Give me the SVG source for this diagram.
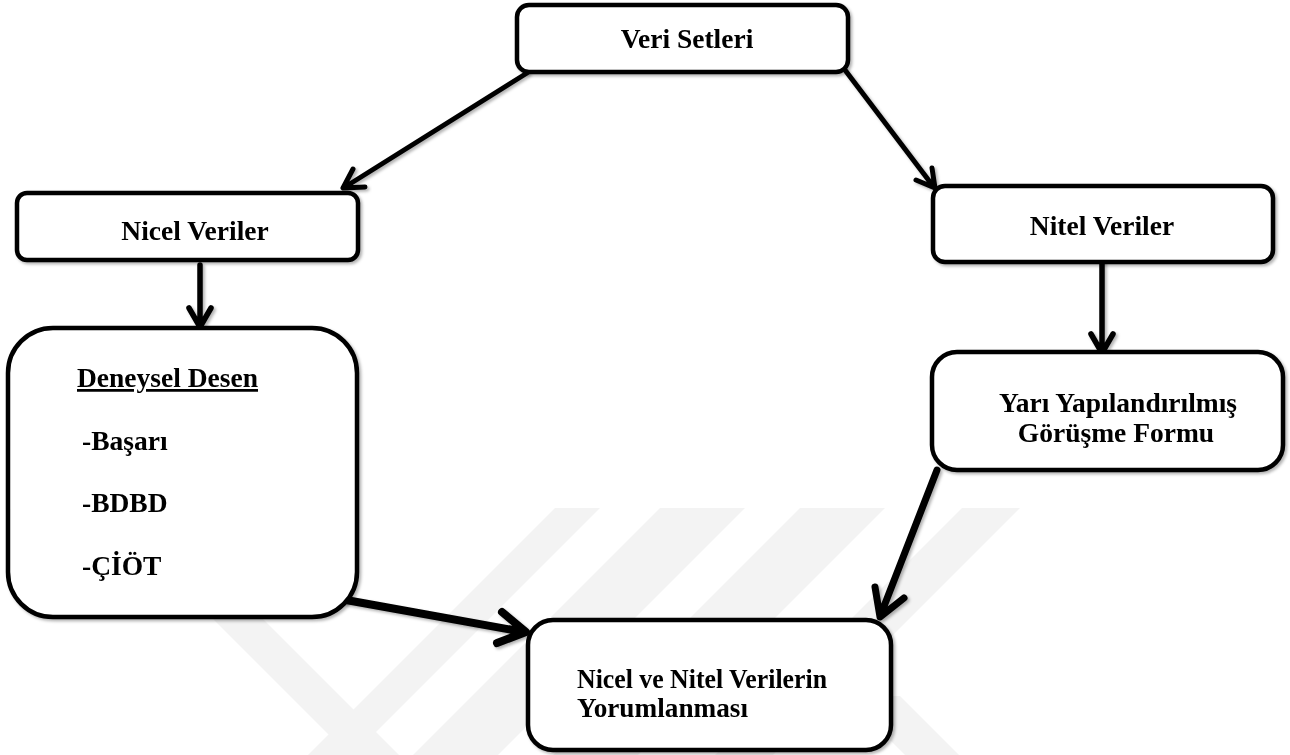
<svg xmlns="http://www.w3.org/2000/svg" width="1290" height="755" viewBox="0 0 1290 755">
<style>
.box{fill:#fff;stroke:#000;stroke-width:4.5}
.t{font-family:"Liberation Serif","Times New Roman",serif;font-weight:bold;font-size:27.5px;fill:#000}
.c{stroke:#000;fill:none;stroke-linecap:round;stroke-linejoin:round}
.wm{fill:#f3f3f3}
</style>
<defs>
<filter id="sh" x="-10%" y="-10%" width="130%" height="130%">
<feDropShadow dx="2" dy="2" stdDeviation="1.5" flood-color="#000" flood-opacity="0.3"/>
</filter>
</defs>
<rect width="1290" height="755" fill="#fff"/>
<g id="watermark">
<polygon class="wm" points="555,508 600,508 353,755 308,755"/>
<polygon class="wm" points="200,606 250,606 399,755 349,755"/>
<polygon class="wm" points="660,508 745,508 498,755 413,755"/>
<polygon class="wm" points="800,508 885,508 638,755 553,755"/>
<polygon class="wm" points="962,508 1020,508 773,755 715,755"/>
<polygon class="wm" points="846,696 900,696 959,755 905,755"/>
</g>
<g id="connectors" filter="url(#sh)">
<path class="c" stroke-width="5" d="M527,73 L345,187 M353,169 L343,188 L365,187"/>
<path class="c" stroke-width="5" d="M845,70 L933,186 M916,180 L935,188 L932,168"/>
<path class="c" stroke-width="5.5" d="M200,265 L200,326 M189,308 L200,327 L211,308"/>
<path class="c" stroke-width="5.5" d="M1102,262 L1102,352 M1091,334 L1102,353 L1113,334"/>
<path class="c" stroke-width="8" d="M346,600 L524,632 M502,612 L526,632 L497,643"/>
<path class="c" stroke-width="7" d="M937,470 L881,614 M875,587 L880,617 L904,598"/>
</g>
<g id="veri-setleri" filter="url(#sh)">
<rect class="box" x="517" y="5" width="331" height="67" rx="12"/>
<text class="t" x="687" y="48" text-anchor="middle">Veri Setleri</text>
</g>
<g id="nicel-veriler" filter="url(#sh)">
<rect class="box" x="17" y="193" width="341" height="67" rx="10"/>
<text class="t" x="195" y="240" text-anchor="middle">Nicel Veriler</text>
</g>
<g id="nitel-veriler" filter="url(#sh)">
<rect class="box" x="933" y="186" width="340" height="76" rx="12"/>
<text class="t" x="1102" y="235" text-anchor="middle">Nitel Veriler</text>
</g>
<g id="deneysel-desen" filter="url(#sh)">
<rect class="box" x="8" y="328" width="349" height="289" rx="45"/>
<text class="t" x="77" y="387" text-decoration="underline">Deneysel Desen</text>
<text class="t" x="82" y="450">-Başarı</text>
<text class="t" x="82" y="512">-BDBD</text>
<text class="t" x="82" y="575">-ÇİÖT</text>
</g>
<g id="yari-yapilandirilmis" filter="url(#sh)">
<rect class="box" x="932" y="352" width="351" height="118" rx="25"/>
<text class="t" x="1118" y="412" text-anchor="middle">Yarı Yapılandırılmış</text>
<text class="t" x="1116" y="442" text-anchor="middle">Görüşme Formu</text>
</g>
<g id="yorumlanmasi" filter="url(#sh)">
<rect class="box" x="528" y="620" width="363" height="130" rx="25"/>
<text class="t" x="577" y="688" textLength="250" lengthAdjust="spacingAndGlyphs">Nicel ve Nitel Verilerin</text>
<text class="t" x="577" y="717" textLength="171" lengthAdjust="spacingAndGlyphs">Yorumlanması</text>
</g>
</svg>
